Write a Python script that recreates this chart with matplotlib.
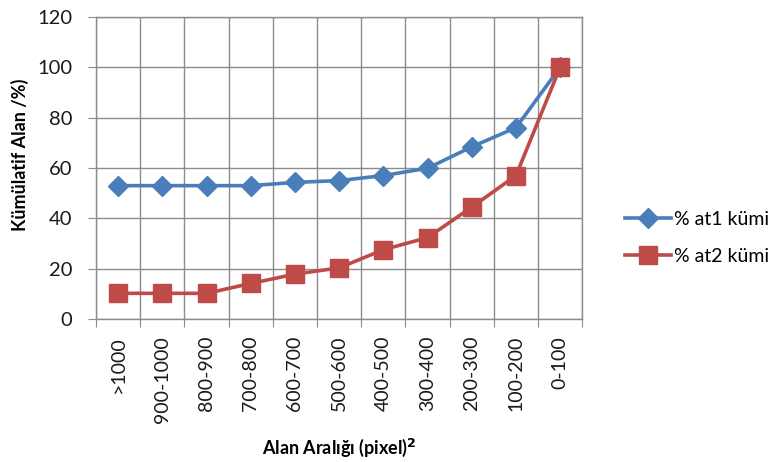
import matplotlib
matplotlib.use("Agg")
import matplotlib.pyplot as plt
import numpy as np

plt.rcParams['font.family'] = ['Lato', 'DejaVu Sans']

categories = [">1000", "900-1000", "800-900", "700-800", "600-700", "500-600",
              "400-500", "300-400", "200-300", "100-200", "0-100"]
at1 = [53.0, 53.0, 53.0, 53.0, 54.3, 55.0, 57.0, 59.9, 68.4, 76.0, 100.0]
at2 = [10.3, 10.3, 10.3, 14.2, 17.9, 20.4, 27.6, 32.4, 44.5, 57.0, 100.0]
yticks = [0, 20, 40, 60, 80, 100, 120]

blue = "#4a7ebb"
red = "#be4b48"
grid_c = "#8c8c8c"
txt_c = "#1a1a1a"

fig = plt.figure(figsize=(7.68, 4.62), dpi=100)
ax = fig.add_axes([96 / 768, 1 - 319.3 / 462, (582.3 - 96) / 768, (319.3 - 16.7) / 462])

x = np.arange(len(categories))
ax.plot(x, at1, color=blue, lw=2.6, marker="D", ms=10, mec=blue, mfc=blue,
        label="% at1 kümi", zorder=3)
ax.plot(x, at2, color=red, lw=2.6, marker="s", ms=13, mec=red, mfc=red,
        label="% at2 kümi", zorder=4)

ax.set_xlim(-0.5, len(categories) - 0.5)
ax.set_ylim(0, 120)
ax.set_yticks(yticks)
ax.set_yticklabels([str(v) for v in yticks], fontsize=14.5, color=txt_c)

# category boundaries carry the ticks and vertical grid
ax.set_xticks(np.arange(len(categories) + 1) - 0.5, minor=False)
ax.set_xticklabels([])
ax.set_xticks(x, minor=True)
ax.set_xticklabels(categories, minor=True, rotation=90, fontsize=14, color=txt_c)
ax.tick_params(axis="x", which="minor", length=0, pad=12)
ax.tick_params(axis="x", which="major", length=6, color=grid_c, direction="out")
ax.tick_params(axis="y", length=6, color=grid_c, direction="out", pad=11)

ax.grid(True, which="major", color=grid_c, lw=1)
ax.set_axisbelow(True)
for s in ax.spines.values():
    s.set_color(grid_c)
    s.set_linewidth(1)

ax.set_ylabel("Kümülatif Alan /%)", fontsize=13, fontweight="bold")
ax.yaxis.set_label_coords(-0.138, 0.543)
ax.set_xlabel("Alan Aralığı (pixel)$^{\\mathbf{2}}$", fontsize=13, fontweight="bold", labelpad=10)

ax.legend(loc="center left", bbox_to_anchor=(607 / 768, 1 - 238 / 462),
          bbox_transform=fig.transFigure, frameon=False, fontsize=14,
          handlelength=2.4, labelspacing=1.05, handletextpad=0.15)

fig.savefig("out.png", dpi=100)
